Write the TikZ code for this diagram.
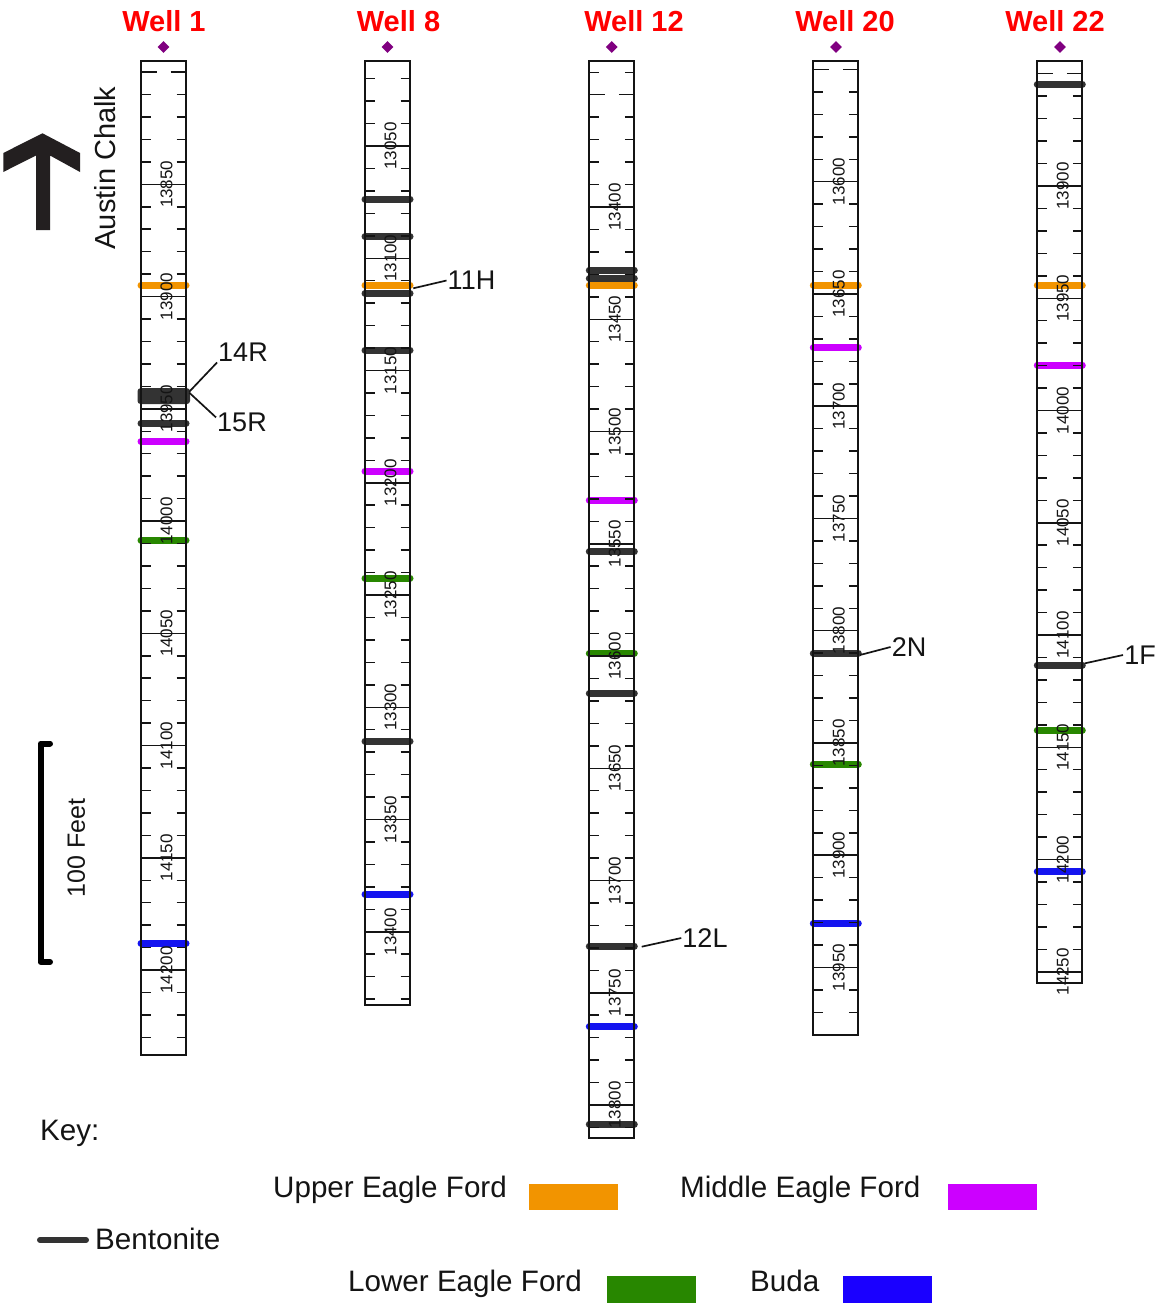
\documentclass[tikz,border=0pt]{standalone}
\usepackage{fontspec}
\setmainfont{Liberation Sans}
\usetikzlibrary{shapes.geometric}
\definecolor{uef}{RGB}{242,148,0}
\definecolor{mef}{RGB}{204,0,255}
\definecolor{lef}{RGB}{40,135,0}
\definecolor{buda}{RGB}{20,20,240}
\definecolor{budakey}{RGB}{26,0,255}
\definecolor{bent}{RGB}{51,51,51}
\definecolor{wellred}{RGB}{255,0,0}
\definecolor{dia}{RGB}{128,0,128}
\definecolor{txt}{RGB}{20,20,20}
\definecolor{arrowc}{RGB}{35,31,32}

\newcommand\drawwell[7]{%
  \draw[frame] (#1,#2) rectangle (#1+45,#3);
  \foreach \k in {-8,...,42}{%
    \pgfmathsetmacro\yy{#4+\k*22.45}%
    \pgfmathtruncatemacro\inside{and(\yy>(#2+4),\yy<(#3+1))}%
    \ifnum\inside=1
      \pgfmathtruncatemacro\ismaj{mod(\k+50,5)==0}%
      \pgfmathtruncatemacro\islab{and(\k>=0,\k<#6)}%
      \ifnum\ismaj=1
        \ifnum\islab=1
          \draw[tickline] (#1,\yy) -- (#1+45,\yy);
          \pgfmathtruncatemacro\lab{#5+10*\k}%
          \node[depthlab] (#7-\k) at (#1+25.5,\yy) {\lab};
        \else
          \draw[tickline] (#1,\yy) -- (#1+15.5,\yy) (#1+29.5,\yy) -- (#1+45,\yy);
        \fi
      \else
        \draw[tickline] (#1,\yy) -- (#1+9.5,\yy) (#1+35.5,\yy) -- (#1+45,\yy);
      \fi
    \fi
  }%
}
\newcommand\bed[3]{\draw[bedline,#3] (#1,#2) -- (#1+45,#2);}

\begin{document}
\begin{tikzpicture}[x=1pt,y=-1pt,
  frame/.style={draw=txt,line width=1.7pt},
  tickline/.style={draw=txt,line width=1.5pt},
  depthlab/.style={rotate=90,inner sep=0pt,text=txt,font=\fontsize{17}{17}\selectfont},
  bedline/.style={line width=7pt,line cap=round},
  wtitle/.style={anchor=base,text=wellred,font=\fontsize{29}{29}\selectfont\bfseries},
  diam/.style={diamond,fill=dia,draw=none,inner sep=0pt,minimum size=12pt},
  calllab/.style={inner sep=1pt,text=txt,font=\fontsize{27}{27}\selectfont},
  callline/.style={draw=txt,line width=1.7pt},
  keytext/.style={anchor=base west,inner sep=0pt,text=txt,font=\fontsize{29.6}{29.6}\selectfont},
]
\useasboundingbox (0,0) rectangle (1159,1311);

% titles and diamonds
\node[wtitle] (t1) at (164,32) {Well 1};
\node[wtitle] (t8) at (398.5,32) {Well 8};
\node[wtitle] (t12) at (634,32) {Well 12};
\node[wtitle] (t20) at (845,32) {Well 20};
\node[wtitle] (t22) at (1055,32) {Well 22};
\node[diam] (d1) at (163.5,47) {};
\node[diam] (d8) at (387.5,47) {};
\node[diam] (d12) at (611.8,47) {};
\node[diam] (d20) at (836,47) {};
\node[diam] (d22) at (1060,47) {};

% ---- markers (beds) ----
% Well 1
\bed{141}{285}{uef}
\fill[bent,rounded corners=3pt] (137.5,388.2) rectangle (190,404);
\bed{141}{423.3}{bent}
\bed{141}{441.7}{mef}
\bed{141}{540}{lef}
\bed{141}{943.3}{buda}
% Well 8
\bed{365}{199}{bent}
\bed{365}{236.7}{bent}
\bed{365}{293.3}{bent}
\bed{365}{285}{uef}
\bed{365}{350}{bent}
\bed{365}{471}{mef}
\bed{365}{578}{lef}
\bed{365}{741}{bent}
\bed{365}{894}{buda}
% Well 12
\bed{589.3}{270}{bent}
\bed{589.3}{278.3}{bent}
\bed{589.3}{285}{uef}
\bed{589.3}{500}{mef}
\bed{589.3}{551.7}{bent}
\bed{589.3}{653.3}{lef}
\bed{589.3}{693.3}{bent}
\bed{589.3}{946}{bent}
\bed{589.3}{1026.7}{buda}
\bed{589.3}{1124}{bent}
% Well 20
\bed{813.3}{285}{uef}
\bed{813.3}{347.7}{mef}
\bed{813.3}{653.3}{bent}
\bed{813.3}{764}{lef}
\bed{813.3}{923.3}{buda}
% Well 22
\bed{1037.3}{84.3}{bent}
\bed{1037.3}{285}{uef}
\bed{1037.3}{365}{mef}
\bed{1037.3}{665}{bent}
\bed{1037.3}{730}{lef}
\bed{1037.3}{871.7}{buda}

% ---- well columns ----
\drawwell{141}{61}{1055}{184.3}{13850}{40}{w1}
\drawwell{365}{61}{1005}{146}{13050}{40}{w8}
\drawwell{589.3}{61}{1138}{207}{13400}{45}{w12}
\drawwell{813.3}{61}{1035}{181.7}{13600}{40}{w20}
\drawwell{1037.3}{61}{983}{186}{13900}{40}{w22}

% ---- callouts ----
\node[calllab] (l14R) at (243,352) {14R};
\node[calllab] (l15R) at (242,422) {15R};
\node[calllab] (l11H) at (471.5,280.5) {11H};
\node[calllab] (l12L) at (705,938) {12L};
\node[calllab] (l2N) at (909,647) {2N};
\node[calllab] (l1F) at (1140,655) {1F};
\coordinate (c14) at (189.3,391.7);
\coordinate (c15) at (189.3,392.7);
\coordinate (c11) at (413.3,288.3);
\coordinate (c12) at (641.7,946.7);
\coordinate (c2) at (860,655);
\coordinate (c1) at (1085,663.3);
\draw[callline] (c14) -- (l14R.south west);
\draw[callline] (c15) -- (l15R.170);
\draw[callline] (c11) -- (l11H.west);
\draw[callline] (c12) -- (l12L.west);
\draw[callline] (c2) -- (l2N.west);
\draw[callline] (c1) -- (l1F.west);

% ---- Austin Chalk arrow ----
\node[rotate=90,inner sep=0pt,text=txt,font=\fontsize{29}{29}\selectfont] (ac) at (105,168) {Austin Chalk};
\fill[arrowc] (42.5,133.3) -- (80,153) -- (80,172) -- (50,155.5) -- (50,230)
  -- (36,230) -- (36,155.5) -- (3.3,172) -- (3.3,153) -- cycle;

% ---- scale bar ----
\coordinate (s1) at (50,743.5);
\coordinate (s2) at (40.5,743.5);
\coordinate (s3) at (40.5,962);
\coordinate (s4) at (50,962);
\draw[line width=6pt,line cap=round,line join=round] (s1) -- (s2) -- (s3) -- (s4);
\node[rotate=90,inner sep=0pt,text=txt,font=\fontsize{25}{25}\selectfont] (sf) at (76.3,848) {100 Feet};

% ---- key ----
\node[keytext] (key) at (40,1140) {Key:};
\node[keytext] (kU) at (273,1197) {Upper Eagle Ford};
\fill[uef] (529,1184) rectangle (618,1210);
\node[keytext] (kM) at (680,1197) {Middle Eagle Ford};
\fill[mef] (948,1184) rectangle (1037,1210);
\coordinate (kb1) at (40,1240);
\coordinate (kb2) at (86,1240);
\draw[bedline,bent,line width=6pt] (kb1) -- (kb2);
\node[keytext] (kB) at (95,1249) {Bentonite};
\node[keytext] (kL) at (348,1291) {Lower Eagle Ford};
\fill[lef] (607,1276) rectangle (696,1303);
\node[keytext] (kD) at (750,1291) {Buda};
\fill[budakey] (843,1276) rectangle (932,1303);
\end{tikzpicture}
\end{document}
